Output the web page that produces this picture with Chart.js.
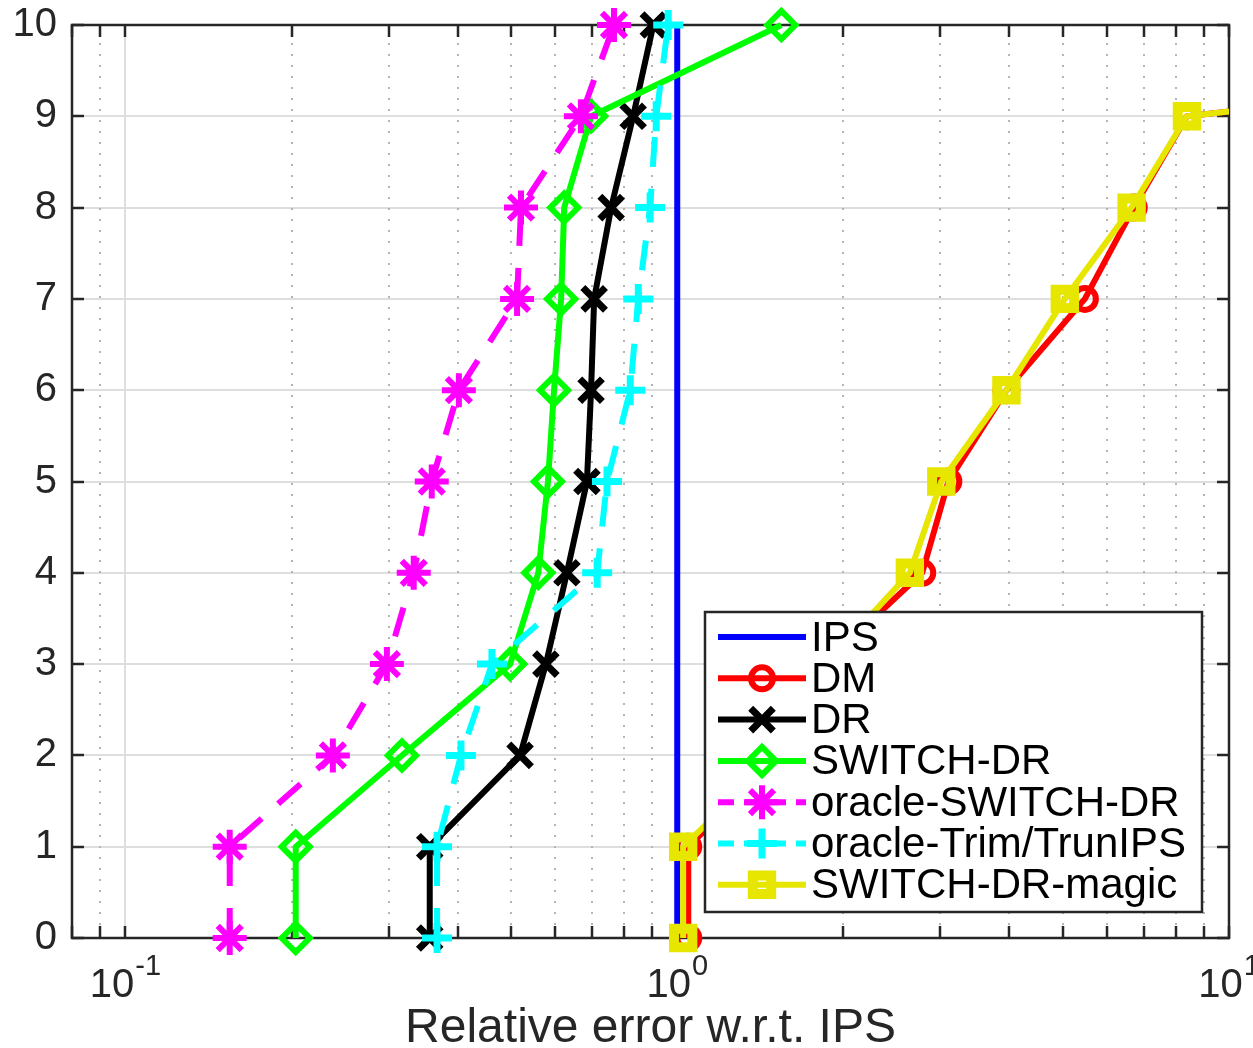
<!DOCTYPE html>
<html>
<head>
<meta charset="utf-8">
<script src="https://cdn.jsdelivr.net/npm/chart.js@4.4.0/dist/chart.umd.min.js"></script>
<style>
  html, body { margin: 0; padding: 0; background: #fff; }
</style>
</head>
<body>
<canvas id="chart1" width="1253" height="1048"></canvas>
<script>
// values: one relative error per level 0..10
const yLevels = [0, 1, 2, 3, 4, 5, 6, 7, 8, 9, 10];
const ipsErr = [1, 1, 1, 1, 1, 1, 1, 1, 1, 1, 1];
const dmErr = [1.047, 1.047, 1.55, 1.85, 2.78, 3.10, 3.95, 5.48, 6.72, 8.39, 250];
const drErr = [0.356, 0.356, 0.519, 0.578, 0.631, 0.686, 0.698, 0.707, 0.759, 0.832, 0.905];
const switchErr = [0.2035, 0.2035, 0.317, 0.498, 0.56, 0.583, 0.598, 0.616, 0.624, 0.698, 1.544];
const oracleSwitchErr = [0.1545, 0.1545, 0.2376, 0.2977, 0.333, 0.359, 0.402, 0.5125, 0.521, 0.669, 0.768];
const oracleTrimErr = [0.367, 0.367, 0.4055, 0.4615, 0.716, 0.746, 0.822, 0.85, 0.893, 0.916, 0.963];
const magicErr = [1.025, 1.025, 1.52, 1.86, 2.64, 3.01, 3.95, 5.04, 6.66, 8.39, 250];

// axis ticks
const xTickValues = [0.08, 0.09, 0.1, 0.2, 0.3, 0.4, 0.5, 0.6, 0.7, 0.8, 0.9,
                     1, 2, 3, 4, 5, 6, 7, 8, 9, 10];
const xLabelTicks = [0.1, 1, 10];
const xLabelExps = ['-1', '0', '1'];
const xTitle = 'Relative error w.r.t. IPS';

const frameColor = '#262626';
const fontName = '"Liberation Sans", Arial, Helvetica, sans-serif';
Chart.defaults.font.family = fontName;

const isDecade = v => Math.abs(Math.log10(v) - Math.round(Math.log10(v))) < 1e-6;
const series = xs => xs.map((v, i) => ({ x: v, y: yLevels[i] }));

// dotted minor grid, box and inward ticks (matlab look)
const matlabFrame = {
  id: 'matlabFrame',
  beforeDatasetsDraw(chart) {
    const { ctx, chartArea: a, scales: { x, y } } = chart;
    ctx.save();
    ctx.strokeStyle = '#b5b5b5';
    ctx.lineWidth = 2;
    ctx.setLineDash([2, 9]);
    xTickValues.forEach(v => {
      if (isDecade(v)) return;
      const px = Math.round(x.getPixelForValue(v));
      if (px <= a.left + 1 || px >= a.right - 1) return;
      ctx.beginPath();
      ctx.moveTo(px, a.bottom - 2);
      ctx.lineTo(px, a.top + 14);
      ctx.stroke();
    });
    ctx.setLineDash([]);
    ctx.strokeStyle = frameColor;
    ctx.lineWidth = 2.5;
    const tl = 12;
    ctx.beginPath();
    xTickValues.forEach(v => {
      const px = Math.round(x.getPixelForValue(v));
      ctx.moveTo(px, a.bottom); ctx.lineTo(px, a.bottom - tl);
      ctx.moveTo(px, a.top); ctx.lineTo(px, a.top + tl);
    });
    yLevels.forEach(v => {
      const py = Math.round(y.getPixelForValue(v));
      ctx.moveTo(a.left, py); ctx.lineTo(a.left + tl, py);
      ctx.moveTo(a.right, py); ctx.lineTo(a.right - tl, py);
    });
    ctx.stroke();
    ctx.strokeRect(a.left, a.top, a.right - a.left, a.bottom - a.top);
    ctx.restore();
  },
  afterDraw(chart) {
    const { ctx, chartArea: a, scales: { x } } = chart;
    ctx.save();
    ctx.fillStyle = frameColor;
    ctx.textBaseline = 'alphabetic';
    xLabelTicks.forEach((v, i) => {
      const px = x.getPixelForValue(v);
      ctx.font = '40px ' + fontName;
      const wb = ctx.measureText('10').width;
      ctx.font = '29px ' + fontName;
      const we = ctx.measureText(xLabelExps[i]).width;
      const start = px - (wb + we + 1) / 2;
      ctx.font = '40px ' + fontName;
      ctx.fillText('10', start, a.bottom + 59);
      ctx.font = '29px ' + fontName;
      ctx.fillText(xLabelExps[i], start + wb + 1, a.bottom + 37);
    });
    ctx.restore();
  }
};

// boxed legend inside the plot, lower right
const boxLegend = {
  id: 'boxLegend',
  afterDraw(chart) {
    const { ctx, chartArea: a } = chart;
    const left = a.right - 524, top = a.bottom - 326, w = 497, h = 300;
    ctx.save();
    ctx.fillStyle = '#ffffff';
    ctx.fillRect(left, top, w, h);
    ctx.strokeStyle = frameColor;
    ctx.lineWidth = 2.5;
    ctx.strokeRect(left, top, w, h);
    ctx.font = '42px ' + fontName;
    ctx.textBaseline = 'middle';
    chart.data.datasets.forEach((ds, i) => {
      const cy = top + 25 + i * 41.3;
      ctx.strokeStyle = ds.borderColor;
      ctx.lineWidth = ds.borderWidth;
      ctx.setLineDash(ds.borderDash ? [16, 10] : []);
      ctx.beginPath();
      ctx.moveTo(left + 13, cy);
      ctx.lineTo(left + 101, cy);
      ctx.stroke();
      ctx.setLineDash([]);
      if (ds.pointRadius > 0) {
        ctx.strokeStyle = ds.pointBorderColor;
        ctx.fillStyle = ds.pointBackgroundColor;
        ctx.lineWidth = ds.pointBorderWidth;
        Chart.helpers.drawPoint(ctx, {
          pointStyle: ds.pointStyle, radius: ds.pointRadius,
          rotation: 0, borderWidth: ds.pointBorderWidth
        }, left + 57, cy);
      }
      ctx.fillStyle = '#000000';
      ctx.fillText(ds.label, left + 106, cy + 2);
    });
    ctx.restore();
  }
};

function lineSet(label, xs, color, style, radius, extra) {
  return Object.assign({
    label: label,
    data: series(xs),
    showLine: true,
    borderColor: color,
    borderWidth: 6,
    borderJoinStyle: 'round',
    pointStyle: style,
    pointRadius: radius,
    pointBorderWidth: 6,
    pointBorderColor: color,
    pointBackgroundColor: 'rgba(0,0,0,0)',
    clip: { left: 40, top: 40, right: 0, bottom: 40 }
  }, extra || {});
}

const datasets = [
  lineSet('IPS', ipsErr, '#0000ff', 'circle', 0, { borderWidth: 6 }),
  lineSet('DM', dmErr, '#ff0000', 'circle', 11),
  lineSet('DR', drErr, '#000000', 'crossRot', 16, { pointBorderWidth: 7 }),
  lineSet('SWITCH-DR', switchErr, '#00ff00', 'rectRot', 14),
  lineSet('oracle-SWITCH-DR', oracleSwitchErr, '#ff00ff', 'star', 17, { borderDash: [30, 22], pointBorderWidth: 6 }),
  lineSet('oracle-Trim/TrunIPS', oracleTrimErr, '#00ffff', 'cross', 15, { borderDash: [30, 22], pointBorderWidth: 7 }),
  lineSet('SWITCH-DR-magic', magicErr, '#e6e600', 'rect', 13, { pointBorderWidth: 10 })
];
// later series are drawn on top, as in the original
datasets.forEach((ds, i) => { ds.order = datasets.length - i; });

new Chart(document.getElementById('chart1'), {
  type: 'scatter',
  data: { datasets: datasets },
  options: {
    responsive: false,
    animation: false,
    events: [],
    layout: { padding: { top: 25, right: 24, left: 0, bottom: 0 } },
    plugins: {
      legend: { display: false },
      tooltip: { enabled: false },
      title: { display: false }
    },
    scales: {
      x: {
        type: 'logarithmic',
        min: 0.08,
        max: 10,
        afterBuildTicks: s => { s.ticks = xTickValues.map(v => ({ value: v, major: isDecade(v) })); },
        afterFit: s => { s.height = 110; },
        ticks: { display: false },
        grid: {
          drawTicks: false,
          lineWidth: 2,
          color: c => (c.tick && isDecade(c.tick.value) ? '#dedede' : 'rgba(0,0,0,0)')
        },
        border: { display: false },
        title: {
          display: true,
          text: xTitle,
          color: frameColor,
          font: { size: 48, lineHeight: 1 },
          padding: { top: 0, bottom: -5 }
        }
      },
      y: {
        type: 'linear',
        min: 0,
        max: 10,
        afterBuildTicks: s => { s.ticks = yLevels.map(v => ({ value: v })); },
        afterFit: s => { s.width = 72; s.paddingTop = 0; s.paddingBottom = 0; },
        ticks: { color: frameColor, font: { size: 40, lineHeight: 0.5 }, padding: 15 },
        grid: { drawTicks: false, lineWidth: 2, color: '#dedede' },
        border: { display: false }
      }
    }
  },
  plugins: [matlabFrame, boxLegend]
});
</script>
</body>
</html>
